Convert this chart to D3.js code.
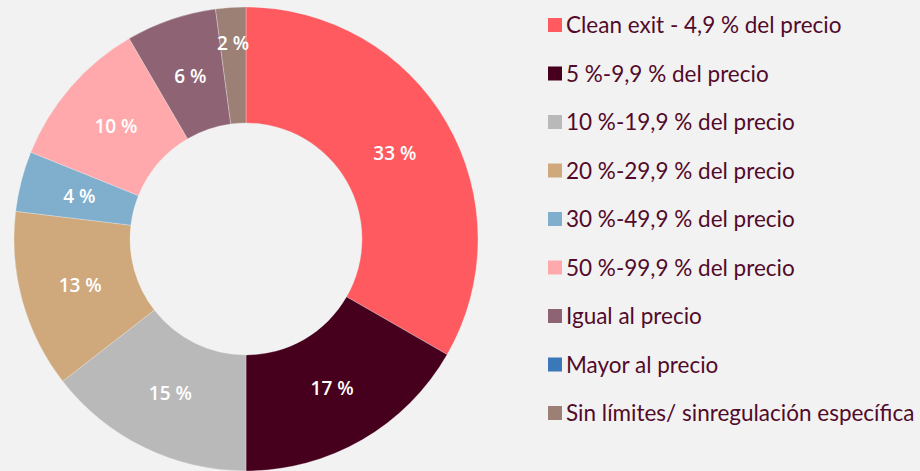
<!DOCTYPE html>
<html><head><meta charset="utf-8">
<script src="https://cdn.jsdelivr.net/npm/d3@7"></script>
<style>
html,body{margin:0;padding:0;background:#f2f2f2;}
svg{display:block;}
</style></head>
<body>
<svg id="chart" width="920" height="471"></svg>
<script>
const categories = [
  "Clean exit - 4,9 % del precio",
  "5 %-9,9 % del precio",
  "10 %-19,9 % del precio",
  "20 %-29,9 % del precio",
  "30 %-49,9 % del precio",
  "50 %-99,9 % del precio",
  "Igual al precio",
  "Mayor al precio",
  "Sin límites/ sinregulación específica"
];
const values = [33.3, 16.7, 14.5, 12.4, 4.2, 10.5, 6.3, 0, 2.1];
const valueLabels = ["33 %", "17 %", "15 %", "13 %", "4 %", "10 %", "6 %", "", "2 %"];
const colors = ["#ff5a5f", "#46001e", "#b9b9b9", "#cfa87b", "#80afcd", "#ffa9ac", "#8e6474", "#3a78b8", "#9d8075"];

const svg = d3.select("#chart");
const cx = 246, cy = 239, R = 232, r0 = 116;
const g = svg.append("g").attr("transform", `translate(${cx},${cy})`);

const pie = d3.pie().sort(null).value(d => d.v);
const data = pie(values.map((v, i) => ({v, i})));
const arc = d3.arc().innerRadius(r0).outerRadius(R);

g.selectAll("path.slice").data(data).enter().append("path")
  .attr("class", "slice")
  .attr("d", arc)
  .attr("fill", d => colors[d.data.i])
  .attr("stroke", "#f2f2f2")
  .attr("stroke-opacity", 0.6)
  .attr("stroke-width", d => d.value > 0 ? 0.5 : 0);

const labelArc = d3.arc().innerRadius(172).outerRadius(172);
const labelArcOuter = d3.arc().innerRadius(196).outerRadius(196);
g.selectAll("text.lbl").data(data.filter(d => d.value > 0)).enter().append("text")
  .attr("class", "lbl")
  .attr("transform", d => {
    const c = (d.value < 3 ? labelArcOuter : labelArc).centroid(d);
    return `translate(${c[0]},${c[1]})`;
  })
  .attr("text-anchor", "middle")
  .attr("dy", "0.36em")
  .attr("fill", "#ffffff")
  .attr("font-family", "'Open Sans', Lato, sans-serif")
  .attr("font-weight", 600)
  .attr("font-size", 19)
  .text(d => valueLabels[d.data.i]);

const leg = svg.append("g").attr("transform", "translate(548,0)");
const rowY = d3.scalePoint().domain(d3.range(categories.length)).range([25, 413]);
const items = leg.selectAll("g.item").data(categories).enter().append("g")
  .attr("class", "item")
  .attr("transform", (d, i) => `translate(0,${rowY(i)})`);
items.append("rect").attr("x", 0).attr("y", -7).attr("width", 14).attr("height", 14)
  .attr("fill", (d, i) => colors[i]);
items.append("text").attr("x", 18).attr("dy", "0.36em")
  .attr("fill", "#520a2a")
  .attr("font-family", "Lato, 'Open Sans', sans-serif")
  .attr("font-size", 22.5)
  .text(d => d);
</script>
</body></html>
